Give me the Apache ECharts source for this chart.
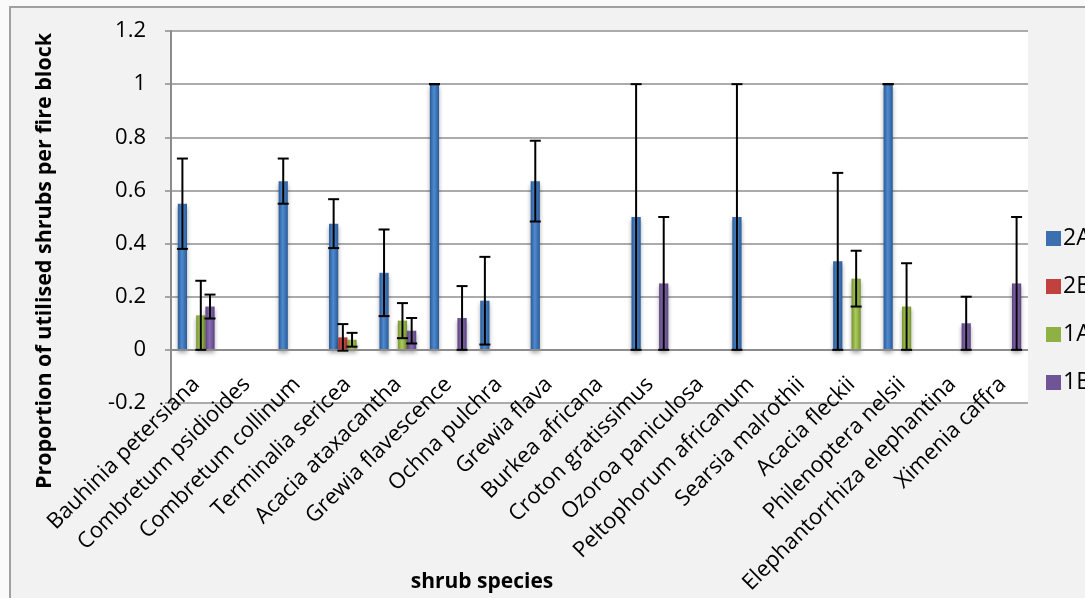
<!DOCTYPE html>
<html>
<head>
<meta charset="utf-8">
<script src="https://cdn.jsdelivr.net/npm/echarts@6/dist/echarts.min.js"></script>
<style>
html,body{margin:0;padding:0;background:#fafafa;}
#c{width:1085px;height:598px;}
</style>
</head>
<body>
<div id="c"></div>
<script>
const categories = ["Bauhinia petersiana","Combretum psidioides","Combretum collinum","Terminalia sericea","Acacia ataxacantha","Grewia flavescence","Ochna pulchra","Grewia flava","Burkea africana","Croton gratissimus","Ozoroa paniculosa","Peltophorum africanum","Searsia malrothii","Acacia fleckii","Philenoptera nelsii","Elephantorrhiza elephantina","Ximenia caffra"];
const seriesNames = ["2A","2B","1A","1B"];
const s2A = [0.55, null, 0.635, 0.475, 0.29, 1.0, 0.185, 0.635, null, 0.5, null, 0.5, null, 0.333, 1.0, null, null];
const e2A = [0.17, null, 0.085, 0.092, 0.163, 0, 0.165, 0.152, null, 0.5, null, 0.5, null, 0.333, 0, null, null];
const s2B = [null, null, null, 0.047, null, null, null, null, null, null, null, null, null, null, null, null, null];
const e2B = [null, null, null, 0.05, null, null, null, null, null, null, null, null, null, null, null, null, null];
const s1A = [0.13, null, null, 0.038, 0.11, null, null, null, null, null, null, null, null, 0.268, 0.163, null, null];
const e1A = [0.13, null, null, 0.026, 0.066, null, null, null, null, null, null, null, null, 0.105, 0.163, null, null];
const s1B = [0.163, null, null, null, 0.072, 0.12, null, null, null, 0.25, null, null, null, null, null, 0.1, 0.25];
const e1B = [0.045, null, null, null, 0.048, 0.12, null, null, null, 0.25, null, null, null, null, null, 0.1, 0.25];
const yTicks = {min: -0.2, max: 1.2, interval: 0.2};

const values = [s2A, s2B, s1A, s1B];
const errors = [e2A, e2B, e1A, e1B];
const colors = [
  ['#2a5b97','#4f8ad0','#2a5b97'],
  ['#9c2e2b','#e0524e','#9c2e2b'],
  ['#77932f','#a9cc5c','#77932f'],
  ['#5b437f','#8a6db3','#5b437f']
];
const legendColors = ['#3b6fb0','#c0413d','#8fb144','#6f5497'];
const CAT_GAP = 0.27;
const FONT = '"Open Sans", sans-serif';

function grad(c){
  return new echarts.graphic.LinearGradient(0,0,1,0,[
    {offset:0,color:c[0]},{offset:0.45,color:c[1]},{offset:1,color:c[2]}
  ]);
}

const series = [];
values.forEach((vals, i) => {
  series.push({
    name: seriesNames[i],
    type: 'bar',
    data: vals,
    barGap: '0%',
    barCategoryGap: (CAT_GAP*100) + '%',
    itemStyle: {color: grad(colors[i]), shadowBlur: 4, shadowColor: 'rgba(0,0,0,0.35)', shadowOffsetY: 3},
    emphasis: {disabled: true},
    z: 2,
    markLine: i === 0 ? {silent: true, symbol: 'none', label: {show: false},
      lineStyle: {color: '#8c8c8c', width: 2, type: 'solid'}, data: [{yAxis: 0}]} : undefined
  });
});
errors.forEach((errs, i) => {
  const d = [];
  errs.forEach((e, k) => {
    if (e !== null && values[i][k] !== null) d.push([k, values[i][k] - e, values[i][k] + e]);
  });
  series.push({
    type: 'custom',
    name: seriesNames[i] + ' err',
    z: 5,
    silent: true,
    data: d,
    encode: {x: 0, y: [1, 2]},
    renderItem: function(params, api){
      const idx = api.value(0);
      const band = api.size([1, 0])[0];
      const bw = band * (1 - CAT_GAP) / 4;
      const off = (i - 1.5) * bw;
      const pLo = api.coord([idx, api.value(1)]);
      const pHi = api.coord([idx, api.value(2)]);
      const x = pLo[0] + off;
      const cap = 5.5;
      const st = {stroke: '#000', lineWidth: 2};
      return {type: 'group', children: [
        {type: 'line', shape: {x1: x, y1: pLo[1], x2: x, y2: pHi[1]}, style: st},
        {type: 'line', shape: {x1: x - cap, y1: pHi[1], x2: x + cap, y2: pHi[1]}, style: st},
        {type: 'line', shape: {x1: x - cap, y1: pLo[1], x2: x + cap, y2: pLo[1]}, style: st}
      ]};
    }
  });
});

const chart = echarts.init(document.getElementById('c'), null, {renderer: 'canvas'});
chart.setOption({
  backgroundColor: '#fafafa',
  animation: false,
  textStyle: {fontFamily: FONT},
  grid: {left: 171, right: 57, top: 31, bottom: 195, show: true, backgroundColor: '#ffffff', borderWidth: 0,
    containLabel: false, outerBoundsMode: 'none'},
  legend: {
    orient: 'vertical', left: 1041, top: 222,
    itemWidth: 15, itemHeight: 15, itemGap: 25,
    icon: 'rect',
    data: seriesNames.map((n, i) => ({name: n, itemStyle: {color: legendColors[i]}})),
    textStyle: {fontSize: 23, color: '#000', fontFamily: FONT, padding: [0,0,0,-3]}
  },
  xAxis: {
    type: 'category',
    data: categories,
    axisLine: {show: false, onZero: false},
    axisTick: {show: false},
    axisLabel: {interval: 0, rotate: 45, fontSize: 22, color: '#000', margin: -22, fontFamily: FONT},
    splitLine: {show: false}
  },
  yAxis: {
    type: 'value',
    min: yTicks.min, max: yTicks.max, interval: yTicks.interval,
    axisLine: {show: true, lineStyle: {color: '#8c8c8c', width: 2}},
    axisTick: {show: true, length: 6, lineStyle: {color: '#8c8c8c', width: 1.5}},
    axisLabel: {fontSize: 22, color: '#000', margin: 25, fontFamily: FONT,
      formatter: v => String(Math.round(v * 10) / 10)},
    splitLine: {show: true, lineStyle: {color: '#ababab', width: 2}}
  },
  graphic: [
    {type: 'rect', z: -100, shape: {x: 10, y: 7, width: 1100, height: 620},
      style: {fill: '#f2f2f2', stroke: '#a0a0a0', lineWidth: 2}},
    {type: 'text', x: 45, y: 261, rotation: Math.PI / 2,
      style: {text: 'Proportion of utilised shrubs per fire block', fontSize: 21.5, fontWeight: 'bold',
        fontFamily: FONT, fill: '#000', textAlign: 'center', textVerticalAlign: 'middle'}},
    {type: 'text', x: 482, y: 582,
      style: {text: 'shrub species', fontSize: 21, fontWeight: 'bold', fontFamily: FONT,
        fill: '#000', textAlign: 'center', textVerticalAlign: 'middle'}}
  ],
  series: series
});
</script>
</body>
</html>
